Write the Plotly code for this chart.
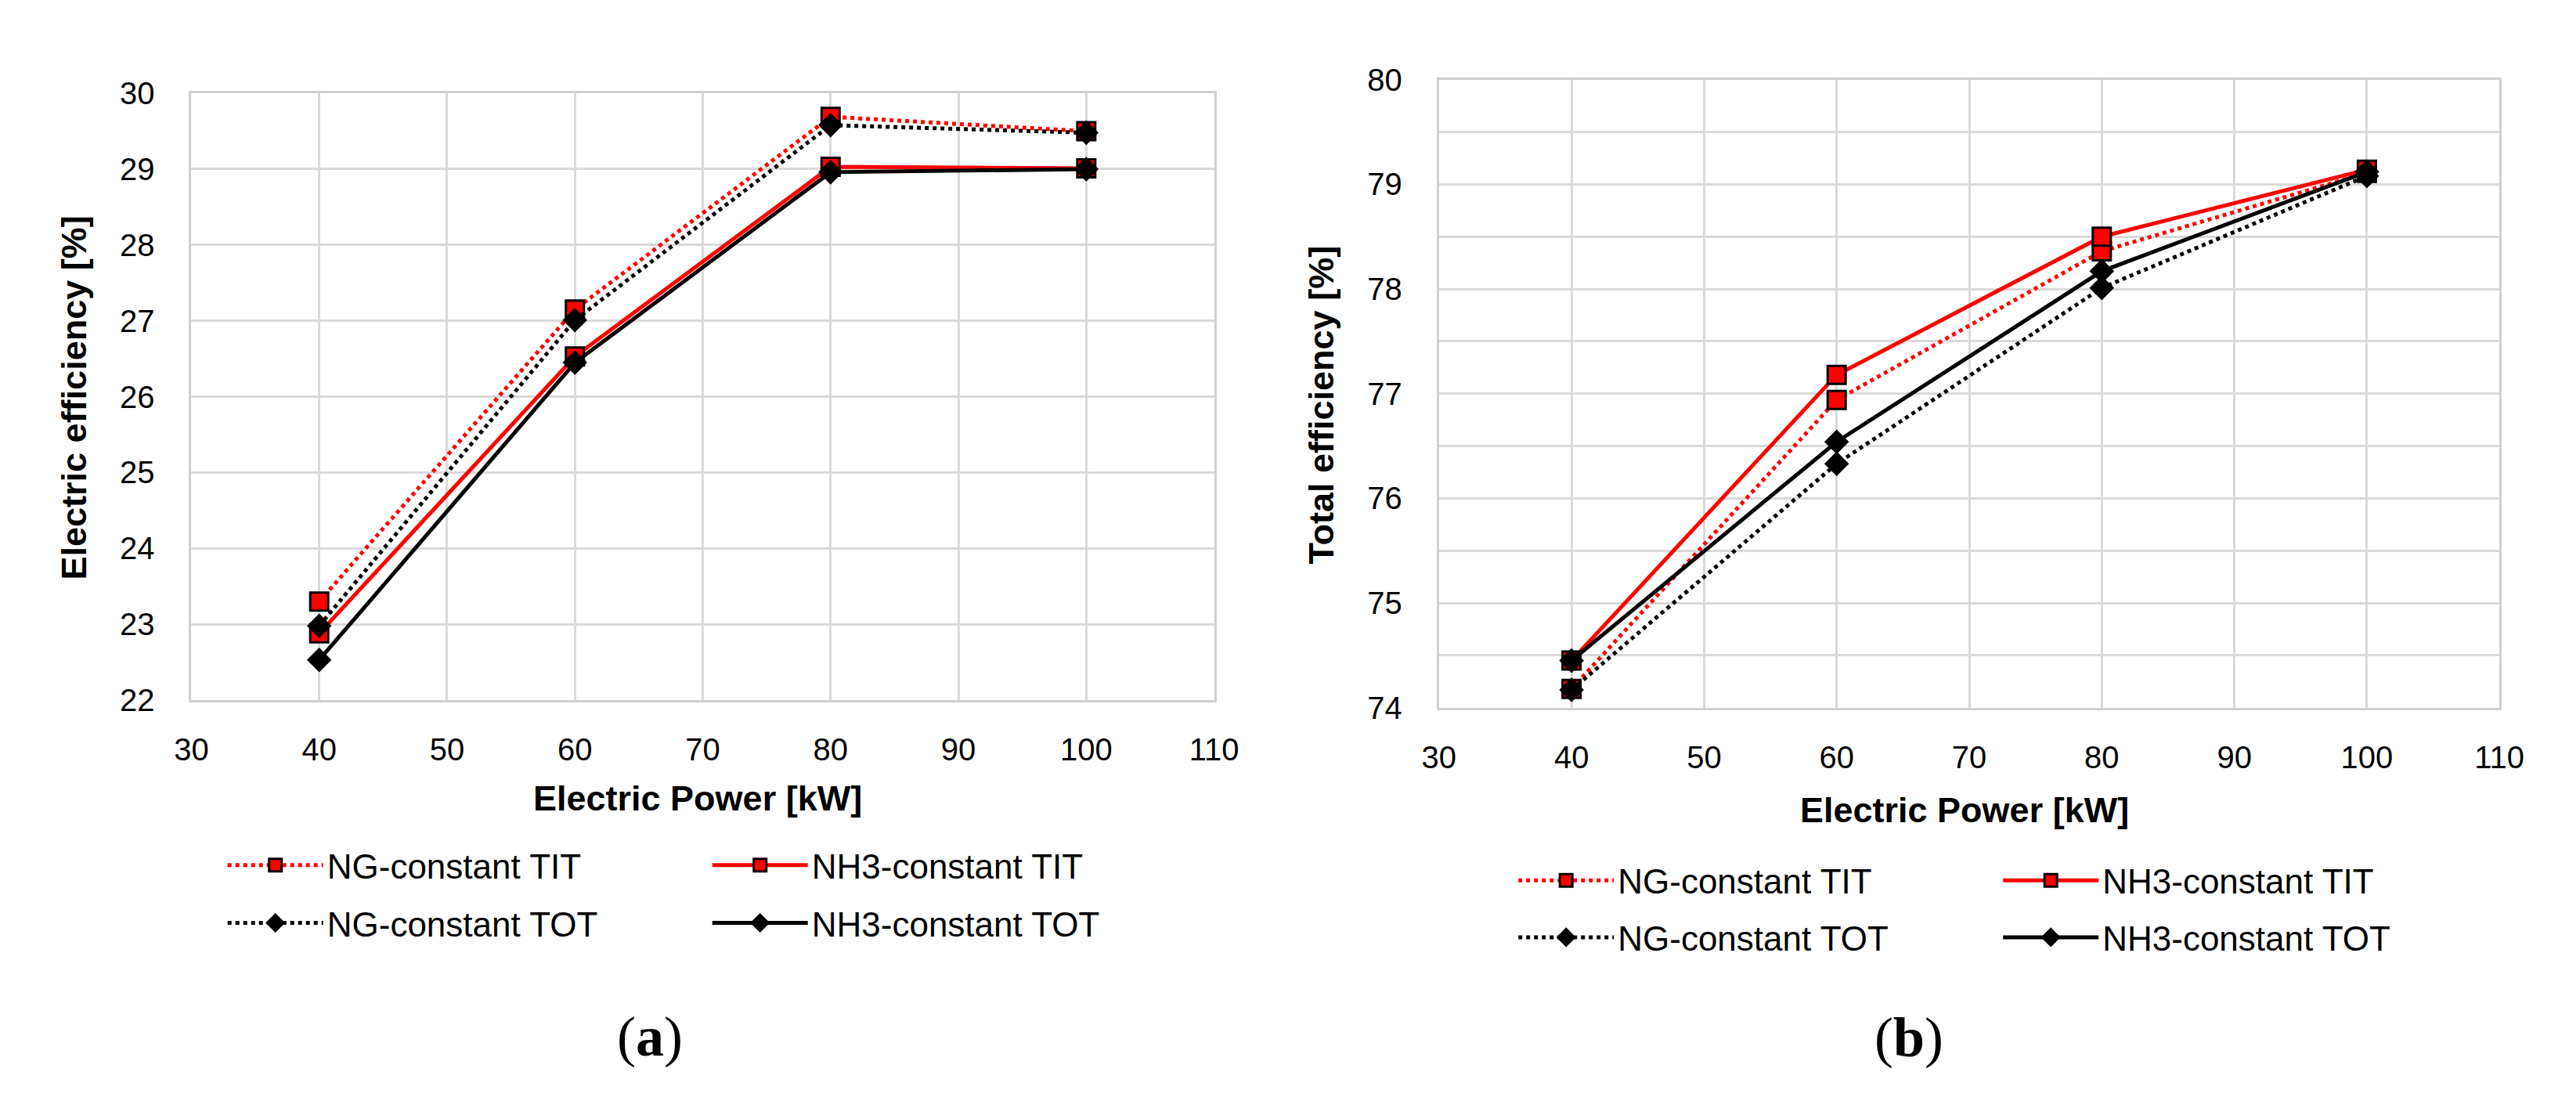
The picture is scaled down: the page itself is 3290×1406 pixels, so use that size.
import plotly.graph_objects as go

# ---------------- data ----------------
power_kw = [40, 60, 80, 100]

# (a) Electric efficiency [%]
elec_ng_tit = [23.30, 27.15, 29.69, 29.50]
elec_nh3_tit = [22.88, 26.53, 29.03, 29.01]
elec_ng_tot = [22.98, 27.01, 29.58, 29.48]
elec_nh3_tot = [22.53, 26.45, 28.96, 29.00]

# (b) Total efficiency [%]
tot_ng_tit = [74.18, 76.94, 78.36, 79.11]
tot_nh3_tit = [74.45, 77.18, 78.50, 79.14]
tot_ng_tot = [74.17, 76.33, 78.01, 79.08]
tot_nh3_tot = [74.45, 76.54, 78.17, 79.12]

series_names = ["NG-constant TIT", "NH3-constant TIT", "NG-constant TOT", "NH3-constant TOT"]
x_ticks = [30, 40, 50, 60, 70, 80, 90, 100, 110]
left_y_ticks = [22, 23, 24, 25, 26, 27, 28, 29, 30]
right_y_ticks = [74, 75, 76, 77, 78, 79, 80]

# ---------------- layout constants ----------------
W, H = 3290, 1406
FONT = "Liberation Sans, Arial, sans-serif"
RED = "#ff0000"
BLACK = "#000000"
GRID = "#d9d9d9"

def px_x(p):
    return p / W

def px_y(p):
    return 1 - p / H

styles = [
    dict(color=RED, dash="5px,5px", symbol="square", mcolor=RED, msize=23),
    dict(color=RED, dash="solid", symbol="square", mcolor=RED, msize=23),
    dict(color=BLACK, dash="5px,5px", symbol="diamond", mcolor=BLACK, msize=21),
    dict(color=BLACK, dash="solid", symbol="diamond", mcolor=BLACK, msize=21),
]

fig = go.Figure()

left_data = [elec_ng_tit, elec_nh3_tit, elec_ng_tot, elec_nh3_tot]
right_data = [tot_ng_tit, tot_nh3_tit, tot_ng_tot, tot_nh3_tot]

for i, (name, ys) in enumerate(zip(series_names, left_data)):
    s = styles[i]
    fig.add_trace(go.Scatter(
        x=power_kw, y=ys, name=name, mode="lines+markers",
        xaxis="x", yaxis="y",
        line=dict(color=s["color"], width=5, dash=s["dash"]),
        marker=dict(symbol=s["symbol"], size=s["msize"], color=s["mcolor"],
                    line=dict(color=BLACK, width=3)),
        legend="legend" if i < 2 else "legend2",
    ))

for i, (name, ys) in enumerate(zip(series_names, right_data)):
    s = styles[i]
    fig.add_trace(go.Scatter(
        x=power_kw, y=ys, name=name, mode="lines+markers",
        xaxis="x2", yaxis="y2",
        line=dict(color=s["color"], width=5, dash=s["dash"]),
        marker=dict(symbol=s["symbol"], size=s["msize"], color=s["mcolor"],
                    line=dict(color=BLACK, width=3)),
        legend="legend3" if i < 2 else "legend4",
    ))

axis_common = dict(
    showgrid=True, gridcolor=GRID, gridwidth=3,
    showline=True, linecolor="#cfcfcf", linewidth=3, mirror=True,
    zeroline=False, ticks="",
    tickfont=dict(family=FONT, size=40, color=BLACK),
    fixedrange=True,
)

legend_common = dict(
    orientation="h", font=dict(family=FONT, size=44, color=BLACK),
    bgcolor="rgba(0,0,0,0)", borderwidth=0,
    xanchor="left", yanchor="middle",
    itemwidth=122, entrywidth=482, itemsizing="trace",
    traceorder="normal",
)

fig.update_layout(
    width=W, height=H,
    margin=dict(l=0, r=0, t=0, b=0),
    paper_bgcolor="white", plot_bgcolor="white",
    showlegend=True,
    xaxis=dict(axis_common, domain=[px_x(218), px_x(1546)], range=[30, 110],
               tickvals=x_ticks, anchor="y", ticklabelstandoff=26),
    yaxis=dict(axis_common, domain=[px_y(892), px_y(92)], range=[22, 30],
               tickvals=left_y_ticks, anchor="x", ticklabelstandoff=36),
    xaxis2=dict(axis_common, domain=[px_x(1838), px_x(3215)], range=[30, 110],
                tickvals=x_ticks, anchor="y2", ticklabelstandoff=26),
    yaxis2=dict(axis_common, domain=[px_y(902), px_y(74)], range=[74, 80],
                tickvals=right_y_ticks, anchor="x2", ticklabelstandoff=36,
                minor=dict(dtick=0.5, showgrid=True, gridcolor=GRID, gridwidth=3)),
    legend=dict(legend_common, x=px_x(260), y=px_y(1110)),
    legend2=dict(legend_common, x=px_x(260), y=px_y(1186)),
    legend3=dict(legend_common, x=px_x(1936), y=px_y(1130)),
    legend4=dict(legend_common, x=px_x(1936), y=px_y(1205)),
)

title_font = dict(family=FONT, size=45, color=BLACK)
annos = [
    dict(text="<b>Electric Power [kW]</b>", x=px_x(875), y=px_y(1021)),
    dict(text="<b>Electric Power [kW]</b>", x=px_x(2520), y=px_y(1037)),
    dict(text="<b>Electric efficiency [%]</b>", x=px_x(66), y=px_y(493), textangle=-90),
    dict(text="<b>Total efficiency [%]</b>", x=px_x(1685), y=px_y(503), textangle=-90),
]
for a in annos:
    fig.add_annotation(xref="paper", yref="paper", showarrow=False,
                       xanchor="center", yanchor="middle", font=title_font, **a)

label_font = dict(family="Liberation Serif, Times New Roman, serif", size=72, color=BLACK)
fig.add_annotation(text="(<b>a</b>)", x=px_x(813), y=px_y(1336), xref="paper", yref="paper",
                   showarrow=False, xanchor="center", yanchor="middle", font=label_font)
fig.add_annotation(text="(<b>b</b>)", x=px_x(2448), y=px_y(1337), xref="paper", yref="paper",
                   showarrow=False, xanchor="center", yanchor="middle", font=label_font)

fig.write_html("out.html")
